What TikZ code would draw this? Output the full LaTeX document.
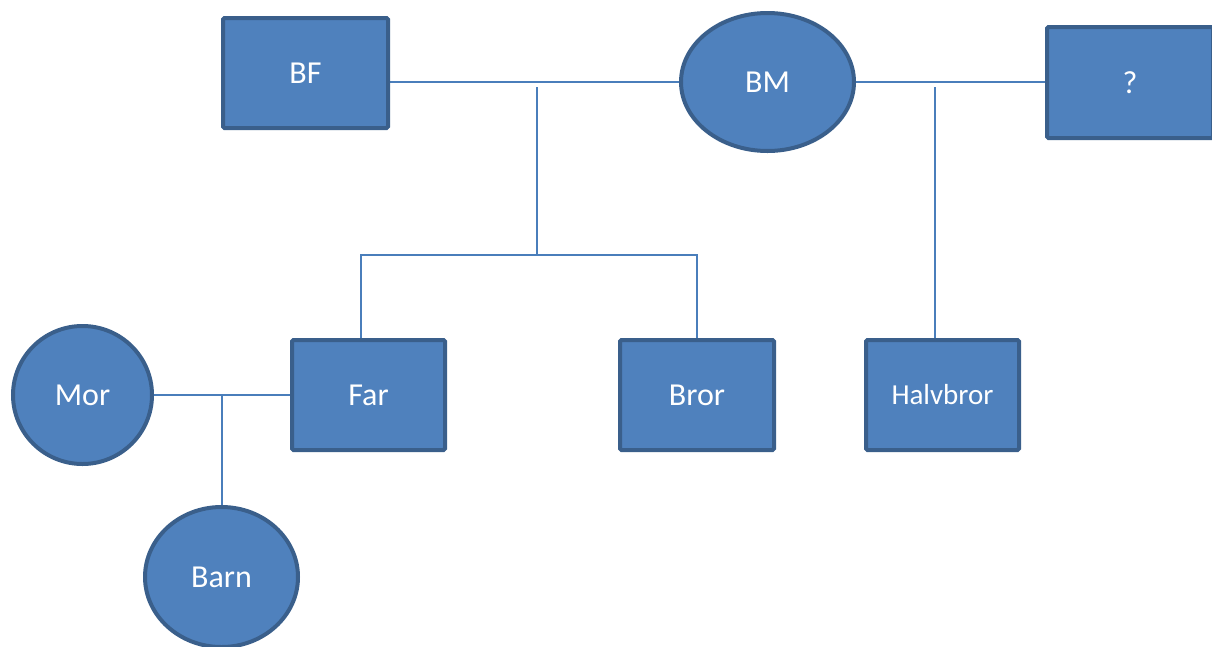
\documentclass[tikz,border=0pt]{standalone}
\usepackage{fontspec}
\setmainfont{Carlito}
\usetikzlibrary{shapes.geometric,backgrounds}
\definecolor{boxfill}{HTML}{4F81BD}
\definecolor{boxline}{HTML}{3A5F8B}
\definecolor{conn}{HTML}{4A7EBB}
\tikzset{
  person/.style={fill=boxfill, draw=boxline, line width=4pt, text=white, inner sep=0pt,
    font=\fontsize{32}{38}\selectfont},
  male/.style={person, rectangle, rounded corners=1.5pt},
  female/.style={person, ellipse},
  link/.style={draw=conn, line width=2pt}
}
\begin{document}
\begin{tikzpicture}[x=1pt,y=-1pt]
\useasboundingbox (0,0) rectangle (1212,646);
\node[male, minimum width=165pt, minimum height=110pt] (BF) at (305.5,73) {BF};
\node[female, minimum width=173pt, minimum height=138pt] (BM) at (767.5,82) {BM};
\node[male, minimum width=166pt, minimum height=111pt] (Q) at (1130,82.5) {?};
\node[male, minimum width=153pt, minimum height=110pt] (Far) at (368.5,395) {Far};
\node[male, minimum width=154pt, minimum height=110pt] (Bror) at (697,395) {Bror};
\node[male, minimum width=153pt, minimum height=110pt, font=\fontsize{29}{35}\selectfont] (Halv) at (942.5,395) {Halvbror};
\node[female, minimum width=139pt, minimum height=138pt] (Mor) at (82.5,395) {Mor};
\node[female, minimum width=153pt, minimum height=140pt] (Barn) at (221.5,577) {Barn};
\coordinate (j1) at (536.5,87);
\coordinate (bar) at (536.5,255);
\coordinate (j2) at (935,87);
\begin{pgfonlayer}{background}
\draw[link] (BF.east |- BM.west) -- (BM.west);
\draw[link] (BM.east) -- (Q.west |- BM.east);
\draw[link] (j1) -- (bar);
\draw[link] ([xshift=-7.5pt]Far.north) |- (bar) -| (Bror.north);
\draw[link] (j2) -- ([xshift=-7.5pt]Halv.north);
\draw[link] (Mor.east) -- (Far.west);
\draw[link] (Barn.north |- Mor.east) -- (Barn.north);
\end{pgfonlayer}
\end{tikzpicture}
\end{document}
